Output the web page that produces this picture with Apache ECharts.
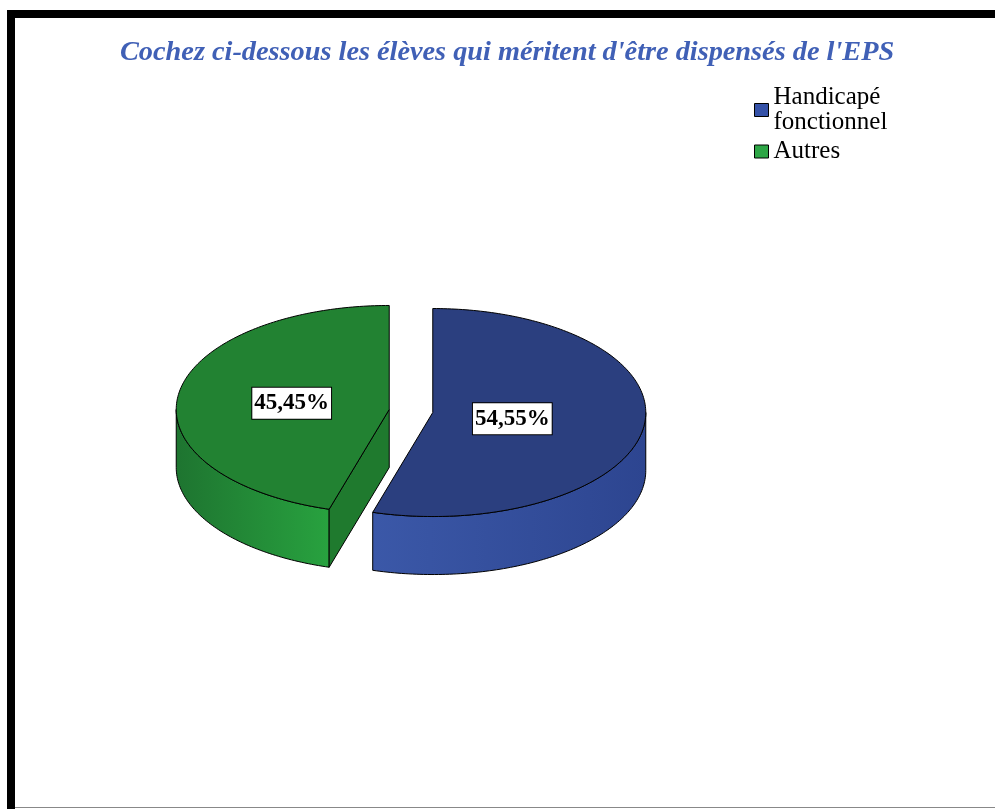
<!DOCTYPE html>
<html>
<head>
<meta charset="utf-8">
<title>EPS</title>
<script src="https://cdn.jsdelivr.net/npm/echarts@6/dist/echarts.min.js"></script>
<style>
    html, body { margin: 0; padding: 0; background: #fff; }
    #chart { width: 995px; height: 809px; }
</style>
</head>
<body>
<div id="chart"></div>
<script>
// data
const categories = ['Handicapé fonctionnel', 'Autres']
const values = [54.55, 45.45]
const valueLabels = ['54,55%', '45,45%']

// look of each slice
const legendColors = ['#3552A8', '#2DA646']
const topColors = ['#2B3F7F', '#228232']
const sideColors = [['#3B58A8', '#2D4590'], ['#1E7430', '#28A23F']]
const faceColors = ['#243A78', '#1F7A2E']

// pie geometry (pixels)
const CX = 411, CY = 411, RX = 213, RY = 104, DEPTH = 58, EXPLODE = 22

const total = values.reduce((a, b) => a + b, 0)

const pt = (cx, cy, a, dy = 0) => [cx + RX * Math.sin(a), cy - RY * Math.cos(a) + dy]

const arc = (cx, cy, a0, a1, dy = 0) => {
    const n = Math.max(2, Math.ceil(Math.abs(a1 - a0) / (Math.PI / 180)))
    const pts = []
    for (let k = 0; k <= n; k++) pts.push(pt(cx, cy, a0 + (a1 - a0) * k / n, dy))
    return pts
}

const makeRender = (i) => (params, api) => {
    const before = values.slice(0, i).reduce((a, b) => a + b, 0)
    const a0 = before / total * Math.PI * 2
    const a1 = a0 + api.value(0) / total * Math.PI * 2
    const mid = (a0 + a1) / 2
    const cx = CX + EXPLODE * Math.sin(mid)
    const cy = CY - EXPLODE * Math.cos(mid) * RY / RX
    const stroke = { stroke: '#000', lineWidth: 1, lineJoin: 'round' }
    const children = []

    // outer wall, only the front half shows
    const s = Math.max(a0, Math.PI / 2), e = Math.min(a1, Math.PI * 1.5)
    if (e > s) {
        const pts = arc(cx, cy, s, e).concat(arc(cx, cy, e, s, DEPTH))
        children.push({
            type: 'polygon',
            shape: { points: pts },
            style: Object.assign({
                fill: new echarts.graphic.LinearGradient(0, 0, 1, 0, [
                    { offset: 0, color: sideColors[i][0] },
                    { offset: 1, color: sideColors[i][1] }
                ])
            }, stroke)
        })
    }
    // cut faces
    const face = (a) => {
        const p = pt(cx, cy, a)
        children.push({
            type: 'polygon',
            shape: { points: [[cx, cy], p, [p[0], p[1] + DEPTH], [cx, cy + DEPTH]] },
            style: Object.assign({ fill: faceColors[i] }, stroke)
        })
    }
    if (Math.sin(a0) < -1e-6) face(a0)
    if (Math.sin(a1) > 1e-6) face(a1)

    // top
    children.push({
        type: 'polygon',
        shape: { points: [[cx, cy]].concat(arc(cx, cy, a0, a1)) },
        style: Object.assign({ fill: topColors[i] }, stroke)
    })

    // value label
    const lp = [cx + RX * 0.42 * Math.sin(mid) - 9, cy - RY * 0.42 * Math.cos(mid)]
    children.push({
        type: 'text',
        x: lp[0], y: lp[1],
        style: {
            text: valueLabels[i],
            align: 'center',
            verticalAlign: 'middle',
            font: 'bold 23px "Liberation Serif", serif',
            fill: '#000',
            backgroundColor: '#fff',
            borderColor: '#000',
            borderWidth: 1,
            padding: [5, 2, 3, 2]
        }
    })
    return { type: 'group', children }
}

const chart = echarts.init(document.getElementById('chart'))

chart.setOption({
    animation: false,
    title: {
        text: "Cochez ci-dessous les élèves qui méritent d'être dispensés de l'EPS",
        left: 115,
        top: 34,
        textStyle: {
            fontFamily: '"Liberation Serif", serif',
            fontStyle: 'italic',
            fontWeight: 'bold',
            fontSize: 28.3,
            color: '#4060B6'
        }
    },
    legend: {
        data: categories,
        orient: 'vertical',
        left: 749,
        top: 80,
        icon: 'rect',
        itemWidth: 14,
        itemHeight: 13,
        itemGap: 4,
        itemStyle: { borderColor: '#000', borderWidth: 1 },
        formatter: (name) => name.replace(' ', '\n'),
        textStyle: {
            fontFamily: '"Liberation Serif", serif',
            fontSize: 25,
            lineHeight: 25,
            color: '#000'
        }
    },
    graphic: [
        // picture frame
        { type: 'rect', shape: { x: 7, y: 10, width: 988, height: 8 }, style: { fill: '#000' } },
        { type: 'rect', shape: { x: 7, y: 10, width: 8, height: 799 }, style: { fill: '#000' } },
        { type: 'rect', shape: { x: 15, y: 807, width: 980, height: 1 }, style: { fill: '#888' } }
    ],
    series: categories.map((name, i) => ({
        type: 'custom',
        name,
        coordinateSystem: 'none',
        itemStyle: { color: legendColors[i] },
        data: [[values[i]]],
        renderItem: makeRender(i)
    }))
})
</script>
</body>
</html>
